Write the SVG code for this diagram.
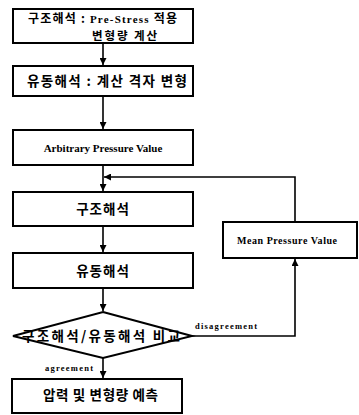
<svg xmlns="http://www.w3.org/2000/svg" width="359" height="415" viewBox="0 0 359 415">
<style>
.box{fill:#fff;stroke:#000;stroke-width:2}
.ko{font-family:"Noto Sans CJK KR","Noto Sans",sans-serif;font-weight:bold;font-size:13.5px;fill:#000}
.en{font-family:"Liberation Serif",serif;font-weight:bold;fill:#000}
.ln{fill:none;stroke:#000;stroke-width:1.6}
</style>
<defs>
<marker id="ah" viewBox="0 0 10 10" refX="10" refY="5" markerWidth="7" markerHeight="7" orient="auto" markerUnits="userSpaceOnUse">
<path d="M0,0 L10,5 L0,10 Z" fill="#000"/>
</marker>
</defs>
<rect width="359" height="415" fill="#fff"/>
<g id="connectors">
<line class="ln" x1="103" y1="43" x2="103" y2="65" marker-end="url(#ah)"/>
<line class="ln" x1="103" y1="96" x2="103" y2="129" marker-end="url(#ah)"/>
<line class="ln" x1="103" y1="165" x2="103" y2="191" marker-end="url(#ah)"/>
<line class="ln" x1="103" y1="226" x2="103" y2="252" marker-end="url(#ah)"/>
<line class="ln" x1="103" y1="288" x2="103" y2="311" marker-end="url(#ah)"/>
<line class="ln" x1="103" y1="358" x2="103" y2="378" marker-end="url(#ah)"/>
<polyline class="ln" points="192,336 295,336 295,259" marker-end="url(#ah)"/>
<polyline class="ln" points="295,222 295,177 104,177" marker-end="url(#ah)"/>
<text class="en" x="195" y="329" font-size="8.5" textLength="62">disagreement</text>
<text class="en" x="45" y="371" font-size="8.5" textLength="48">agreement</text>
</g>
<g id="n1">
<rect class="box" x="13" y="9" width="180" height="34"/>
<text class="ko" x="28" y="23" font-size="12" style="font-size:12px" textLength="149">구조해석 : <tspan class="en" font-size="11">Pre-Stress</tspan> 적용</text>
<text class="ko" x="92" y="40" style="font-size:11.5px" textLength="65">변형량 계산</text>
</g>
<g id="n2">
<rect class="box" x="13" y="66" width="180" height="30"/>
<text class="ko" x="27" y="86" textLength="160">유동해석 : 계산 격자 변형</text>
</g>
<g id="n3">
<rect class="box" x="13" y="130" width="180" height="35"/>
<text class="en" x="103" y="152" font-size="11" text-anchor="middle">Arbitrary Pressure Value</text>
</g>
<g id="n4">
<rect class="box" x="13" y="192" width="180" height="34"/>
<text class="ko" x="103" y="214" text-anchor="middle" letter-spacing="1">구조해석</text>
</g>
<g id="n5">
<rect class="box" x="13" y="253" width="180" height="35"/>
<text class="ko" x="103" y="276" text-anchor="middle" letter-spacing="1">유동해석</text>
</g>
<g id="n6">
<polygon class="box" points="103,312 192,336 103,358 13,336"/>
<text class="ko" x="22" y="341" textLength="158">구조해석/유동해석 비교</text>
</g>
<g id="n7">
<rect class="box" x="12" y="379" width="170" height="34"/>
<text class="ko" x="43" y="400" textLength="115">압력 및 변형량 예측</text>
</g>
<g id="n8">
<rect class="box" x="223" y="222" width="134" height="36"/>
<text class="en" x="237" y="244" font-size="10" textLength="100">Mean Pressure Value</text>
</g>
</svg>
